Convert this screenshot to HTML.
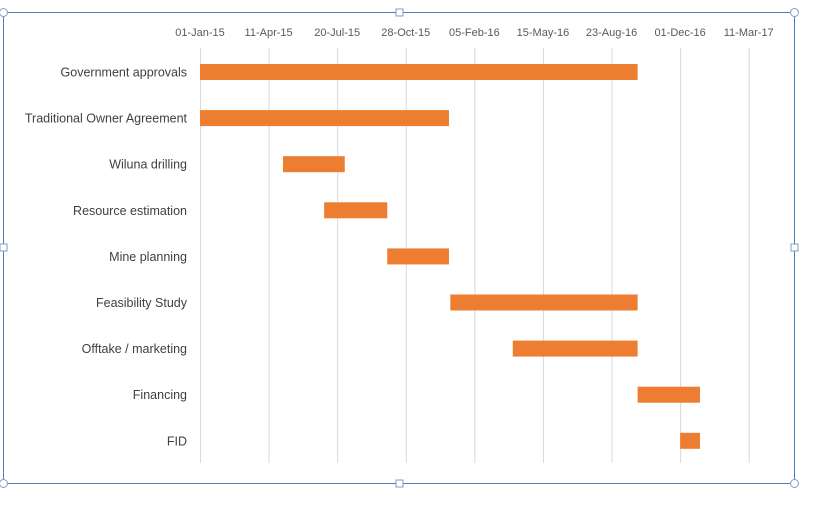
<!DOCTYPE html>
<html><head><meta charset="utf-8"><style>
body{margin:0;background:#fff;}
svg{display:block;font-family:"Liberation Sans",sans-serif;}
</style></head><body>
<svg id="chart" width="820" height="519">
<rect x="3.5" y="12.5" width="791" height="471" fill="#fff" stroke="#4a7ebb" stroke-width="1"/>
<g id="grid"></g><g id="bars"></g><g id="labels"></g>
<g fill="#fff" stroke="#7f9fc4">
<circle cx="3.5" cy="12.5" r="4"/><circle cx="794.5" cy="12.5" r="4"/><circle cx="3.5" cy="483.5" r="4"/><circle cx="794.5" cy="483.5" r="4"/>
<rect x="396" y="9" width="7" height="7"/><rect x="396" y="480" width="7" height="7"/><rect x="0" y="244" width="7" height="7"/><rect x="791" y="244" width="7" height="7"/>
</g>
</svg>
<script>
const tasks=["Government approvals","Traditional Owner Agreement","Wiluna drilling","Resource estimation","Mine planning","Feasibility Study","Offtake / marketing","Financing","FID"];
const starts=[0,0,121,181,273,365,456,638,700];
const ends=[638,363,211,273,363,638,638,729,729];
const tickDays=[0,100,200,300,400,500,600,700,800];
const tickLabels=["01-Jan-15","11-Apr-15","20-Jul-15","28-Oct-15","05-Feb-16","15-May-16","23-Aug-16","01-Dec-16","11-Mar-17"];
const NS="http://www.w3.org/2000/svg";
const x=d=>200+d*0.6859;
const y=i=>72+i*46.1;
function mk(t,a,p){const e=document.createElementNS(NS,t);for(const k in a)e.setAttribute(k,a[k]);p.appendChild(e);return e;}
const grid=document.getElementById('grid'),bars=document.getElementById('bars'),labels=document.getElementById('labels');
tickDays.forEach((d,i)=>{
 const l=mk('line',{x1:x(d)+.5,x2:x(d)+.5,y1:48,y2:463,stroke:'#d9d9d9'},grid);
 
 
 const t=mk('text',{x:x(d),y:36,'text-anchor':'middle','font-size':11,fill:'#595959'},grid);
 t.textContent=tickLabels[i];
 
 
});
tasks.forEach((n,i)=>{
 const r=mk('rect',{x:x(starts[i]),y:y(i)-8,width:x(ends[i])-x(starts[i]),height:16,fill:'#ed7d31'},bars);
 
 
 const t=mk('text',{x:187,y:y(i)+4.5,'text-anchor':'end','font-size':12.5,fill:'#404040'},labels);
 t.textContent=n;
 
 
});
</script>
</body></html>
